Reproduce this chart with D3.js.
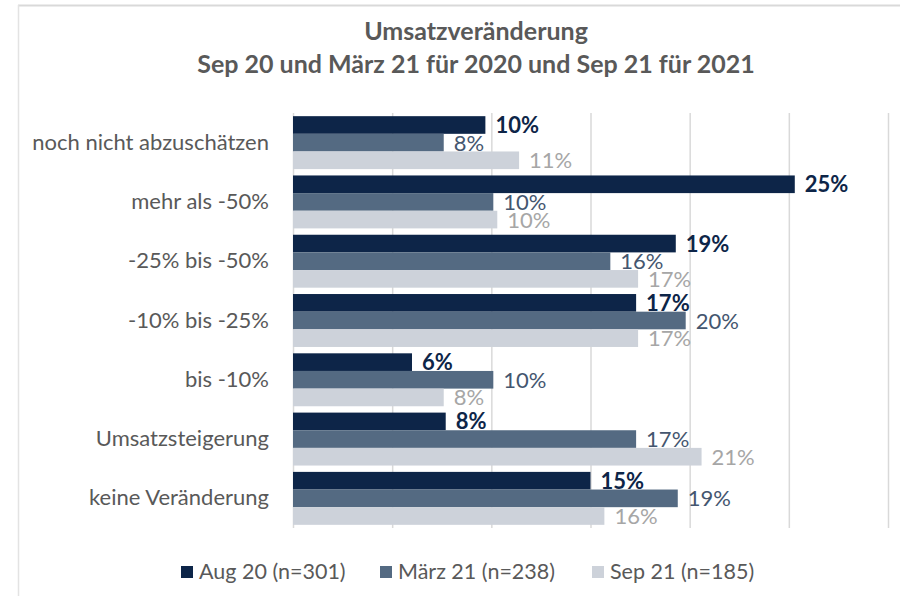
<!DOCTYPE html>
<html>
<head>
<meta charset="utf-8">
<script src="https://cdn.jsdelivr.net/npm/d3@7"></script>
<style>
    body { margin: 0; background: white; }
    text { font-family: Lato, "Open Sans", sans-serif; }
</style>
</head>
<body>
<div id="main"></div>
<script>
const categories = ['noch nicht abzuschätzen', 'mehr als -50%', '-25% bis -50%', '-10% bis -25%', 'bis -10%', 'Umsatzsteigerung', 'keine Veränderung']
const seriesNames = ['Aug 20 (n=301)', 'März 21 (n=238)', 'Sep 21 (n=185)']
const aug20 = [9.7, 25.3, 19.3, 17.3, 6.0, 7.7, 15.0]
const maerz21 = [7.6, 10.1, 16.0, 19.8, 10.1, 17.3, 19.4]
const sep21 = [11.4, 10.3, 17.4, 17.4, 7.6, 20.6, 15.7]
const xTicks = [0, 5, 10, 15, 20, 25, 30]
const titleLines = ['Umsatzveränderung', 'Sep 20 und März 21 für 2020 und Sep 21 für 2021']

const ctx = {
    w: 900,
    h: 596,
    left: 293,
    right: 888,
    top: 113,
    bottom: 528,
    barColors: ['#0d2548', '#546a82', '#cdd2da'],
    labelColors: ['#0d2548', '#44566f', '#a6a6a6'],
    textColor: '#595959',
    gridColor: '#d9d9d9'
}

function createViz() {
    let svgEl = d3.select('#main').append('svg')
        .attr('width', ctx.w)
        .attr('height', ctx.h)
    let rootG = svgEl.append('g').attr('id', 'rootG')

    // cropped chart frame: only top and left edges show
    rootG.append('line')
        .attr('x1', 18).attr('x2', ctx.w).attr('y1', 5.5).attr('y2', 5.5)
        .attr('stroke', '#d9d9d9').attr('stroke-width', 2)
    rootG.append('line')
        .attr('x1', 18.5).attr('x2', 18.5).attr('y1', 5).attr('y2', ctx.h)
        .attr('stroke', '#e3e3e3').attr('stroke-width', 1.5)

    // title
    rootG.selectAll('text.title')
        .data(titleLines)
        .join('text')
        .attr('class', 'title')
        .attr('x', 476)
        .attr('y', (d, i) => 40 + i * 33)
        .attr('text-anchor', 'middle')
        .attr('font-size', 25)
        .attr('font-weight', 'bold')
        .attr('fill', ctx.textColor)
        .text(d => d)

    let series = [aug20, maerz21, sep21]
    let rows = []
    categories.forEach((c, i) => {
        series.forEach((s, j) => {
            rows.push({ cat: c, key: j, value: s[i] })
        })
    })

    let xScale = d3.scaleLinear().domain([0, 30]).range([ctx.left, ctx.right])
    let yScale = d3.scaleBand().domain(categories).range([ctx.top, ctx.bottom])
        .paddingInner(0.107).paddingOuter(0.0535)
    let ySub = d3.scaleBand().domain([0, 1, 2]).range([0, yScale.bandwidth()])

    // gridlines
    let grid = rootG.append('g')
        .attr('transform', `translate(0,${ctx.bottom})`)
        .call(d3.axisBottom(xScale).tickValues(xTicks).tickSize(-(ctx.bottom - ctx.top)).tickFormat(''))
    grid.select('.domain').remove()
    grid.selectAll('.tick line').attr('stroke', ctx.gridColor).attr('stroke-width', 1.5)

    // category labels
    let yAxis = rootG.append('g')
        .attr('transform', `translate(269,0)`)
        .call(d3.axisLeft(yScale).tickSize(0).tickPadding(0))
    yAxis.select('.domain').remove()
    yAxis.selectAll('text')
        .attr('font-size', 22)
        .attr('font-family', 'Lato, sans-serif')
        .attr('fill', ctx.textColor)

    // bars
    let canvas = rootG.append('g').attr('id', 'bars')
    canvas.selectAll('rect')
        .data(rows)
        .join('rect')
        .attr('x', xScale(0))
        .attr('y', d => yScale(d.cat) + ySub(d.key))
        .attr('width', d => xScale(d.value) - xScale(0))
        .attr('height', ySub.bandwidth())
        .attr('fill', d => ctx.barColors[d.key])

    // value labels
    canvas.selectAll('text')
        .data(rows)
        .join('text')
        .attr('x', d => xScale(d.value) + 10)
        .attr('y', d => yScale(d.cat) + ySub(d.key) + ySub.bandwidth() / 2 + 8)
        .attr('font-size', 22)
        .attr('font-weight', d => d.key == 0 ? 'bold' : 'normal')
        .attr('fill', d => ctx.labelColors[d.key])
        .text(d => d3.format('.0f')(d.value) + '%')

    // legend
    let legendX = [181, 380, 592]
    let legend = rootG.append('g').attr('id', 'legend')
    let items = legend.selectAll('g')
        .data(seriesNames)
        .join('g')
        .attr('transform', (d, i) => `translate(${legendX[i]},566)`)
    items.append('rect')
        .attr('width', 12)
        .attr('height', 12)
        .attr('fill', (d, i) => ctx.barColors[i])
    items.append('text')
        .attr('x', 18)
        .attr('y', 13)
        .attr('font-size', 21.5)
        .attr('fill', ctx.textColor)
        .text(d => d)
}

createViz()
</script>
</body>
</html>
